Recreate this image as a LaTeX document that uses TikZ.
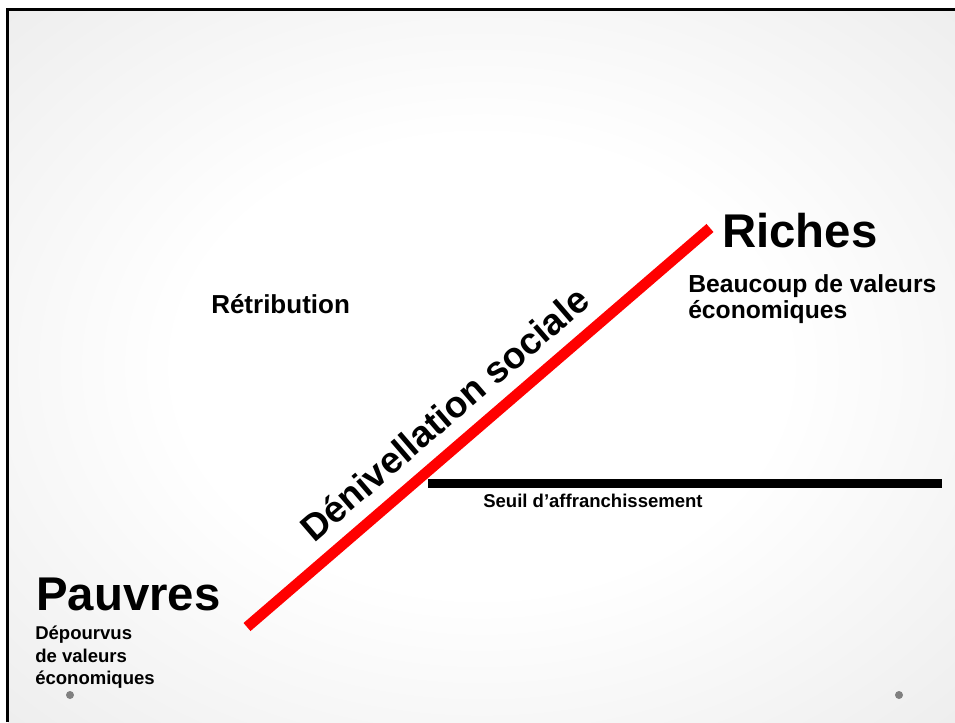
\documentclass[tikz,border=0pt]{standalone}
\usepackage{fontspec}
\setmainfont{Liberation Sans}
\usetikzlibrary{calc}
\pgfdeclareradialshading{bgshade}{\pgfpoint{0bp}{0bp}}{color(0bp)=(white); color(16bp)=(white); color(71bp)=(black!19)}
\begin{document}
\begin{tikzpicture}[x=0.75pt,y=-0.75pt,
  lbl/.style={font=\bfseries, inner sep=0pt, anchor=base west},
  huge/.style={font=\bfseries\fontsize{35.5}{42}\selectfont},
  mid/.style={font=\bfseries\fontsize{18.5}{22}\selectfont},
  small/.style={font=\bfseries\fontsize{13.9}{17}\selectfont},
  dotmark/.style={circle, fill=black!50, inner sep=0pt, minimum size=6pt}]
\useasboundingbox (0,0) rectangle (955,722);
\fill[white] (0,0) rectangle (955,722);
\shade[shading=bgshade] (8,10) rectangle (955,722);
\draw[line width=2.25pt] (7,722) -- (7,9) -- (955,9);

% red slope
\coordinate (p) at (247,627);
\coordinate (r) at (710,228);
\draw[red, line width=8pt] (p) -- (r);
% threshold line
\coordinate (s1) at (428,483.5);
\coordinate (s2) at (942,483.5);
\draw[black, line width=6.75pt] (s1) -- (s2);

\node[lbl, huge] (riches) at (722,247) {Riches};
\node[lbl, mid] (beau1) at (688,292) {Beaucoup de valeurs};
\node[lbl, mid] (beau2) at (688,318) {économiques};
\node[lbl, font=\bfseries\fontsize{19.5}{23}\selectfont] (retr) at (211,313) {Rétribution};
\node[lbl, huge] (pauvres) at (36,610) {Pauvres};
\node[lbl, small] (dep1) at (35,639) {Dépourvus};
\node[lbl, small] (dep2) at (35,662) {de valeurs};
\node[lbl, small] (dep3) at (35,684) {économiques};
\node[lbl, small] (seuil) at (483,507) {Seuil d’affranchissement};

\node[inner sep=0pt, anchor=base, rotate=40.76, font=\bfseries\fontsize{27.8}{33}\selectfont]
  (deniv) at ($(p)!0.472!(r)+(-12.6,-14.6)$) {Dénivellation sociale};

\node[dotmark] (dot1) at (70,695) {};
\node[dotmark] (dot2) at (899,695) {};
\end{tikzpicture}
\end{document}
